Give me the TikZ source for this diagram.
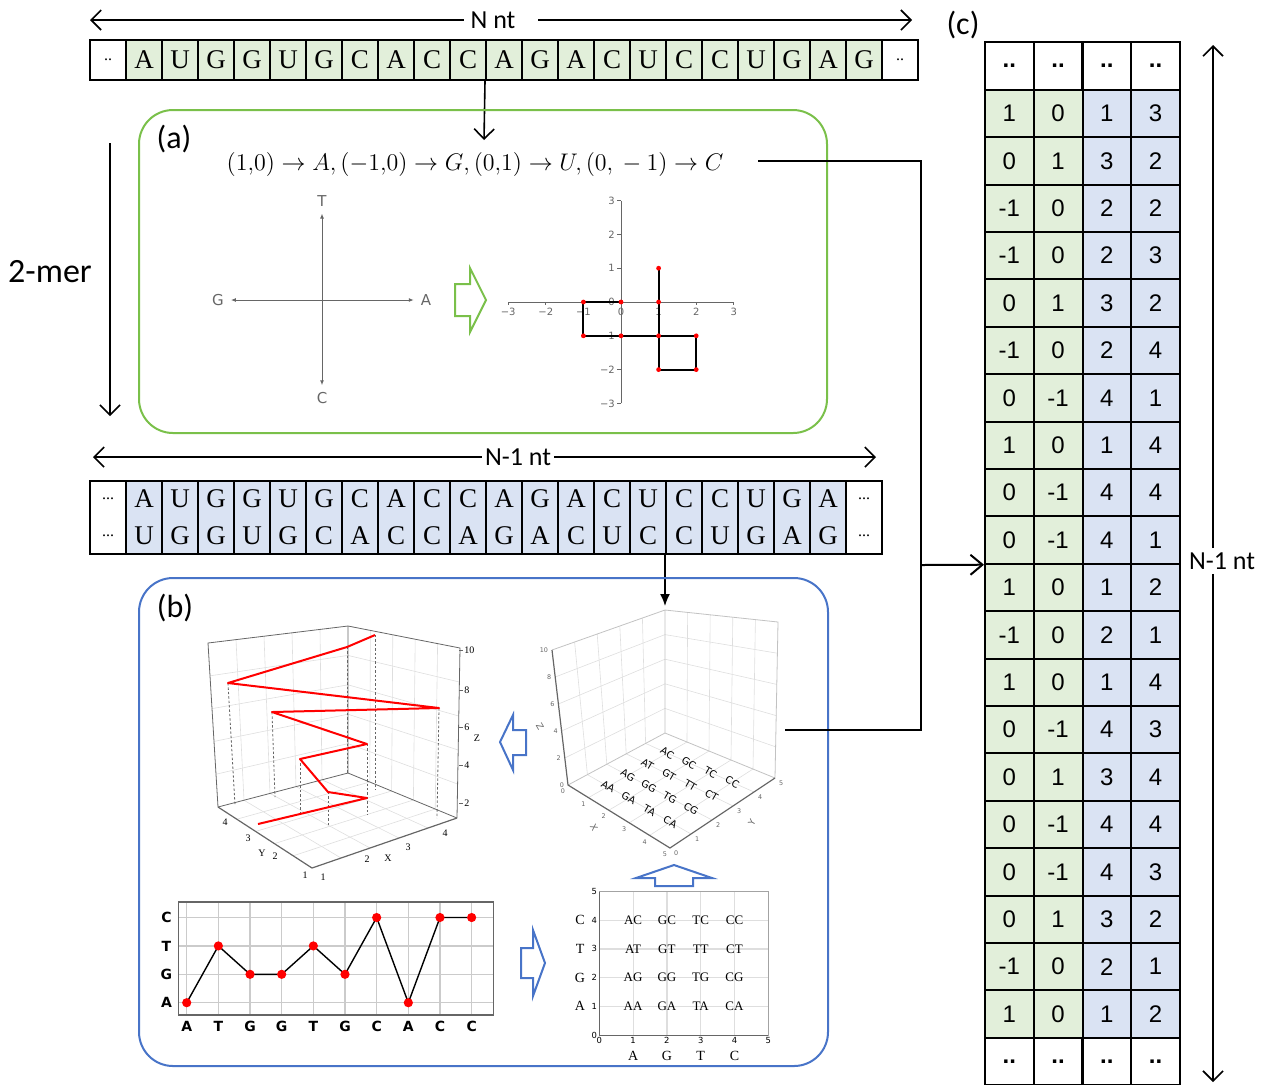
\documentclass[tikz,border=0pt]{standalone}
\usepackage{fontspec}
\setmainfont{Carlito}
\newfontfamily\seqfont{Liberation Serif}
\newfontfamily\tabfont{Liberation Sans}
\newfontfamily\plotfont{DejaVu Sans}
\usetikzlibrary{arrows.meta,calc,positioning}

\definecolor{ntgreen}{HTML}{E2EFDA}
\definecolor{ntblue}{HTML}{DAE3F3}
\definecolor{panelgreen}{HTML}{7AC04A}
\definecolor{panelblue}{HTML}{4874C8}
\definecolor{gridgray}{gray}{0.87}
\definecolor{axisgray}{gray}{0.4}
\newcommand{\fs}[1]{\fontsize{#1}{#1}\selectfont}

\tikzset{
  barb/.style={line width=0.8pt, -{Straight Barb[length=5pt,width=10pt]}},
  tinyarr/.style={axisgray, line width=0.5pt, -{Latex[length=2.5pt,width=2pt]}},
  ntcell/.style={draw, line width=1pt, minimum width=18pt, minimum height=20pt,
    inner sep=0pt, font=\seqfont\fs{13.5}},
  paircell/.style={draw, line width=1pt, minimum width=18pt, minimum height=36.5pt,
    inner sep=0pt, align=center, font=\seqfont\fontsize{13.5}{18.5}\selectfont},
  tabcell/.style={draw, line width=1pt, minimum width=24.4pt, minimum height=23.7pt,
    inner sep=0pt, font=\tabfont\fs{12}},
  panel/.style={draw, line width=1pt, rounded corners=17pt, inner sep=0pt},
  hollow/.style={line width=1pt, fill=white, line join=miter},
  wall/.style={gridgray, line width=0.3pt},
  edge3d/.style={axisgray, line width=0.4pt},
  tick3d/.style={font=\seqfont\fs{5}, inner sep=0.5pt},
  tinytick/.style={font=\plotfont\fs{3.2}, text=axisgray, inner sep=0.3pt},
}

\begin{document}
\begin{tikzpicture}[x=0.5pt, y=-0.5pt]
\useasboundingbox (0,0) rectangle (1263,1084);

% N nt sequence
\node[font=\fs{13}] (nnt) at (493,20) {N nt};
\coordinate (nntL) at (90,20);
\coordinate (nntR) at (912,20);
\draw[barb] (nnt.west) -- (nntL);
\draw[barb] ([xshift=8pt]nnt.east) -- (nntR);
\node[ntcell, font=\seqfont\fs{8}] (t1) at (108,60) {..};
\foreach \ch [count=\i from 2] in {A,U,G,G,U,G,C,A,C,C,A,G,A,C,U,C,C,U,G,A,G}
  \node[ntcell, fill=ntgreen] (t\i) at ({36*\i+72},60) {\ch};
\node[ntcell, font=\seqfont\fs{8}] (t23) at (900,60) {..};
\coordinate (aTip) at (484,140);
\draw[barb] ([xshift=-1pt]t11.south east) -- (aTip);

% panel (a)
\node[panel, draw=panelgreen, minimum width=344pt, minimum height=161.5pt] (pa) at (483,271.5) {};
\node[font=\fs{16}] (la) at (174,139) {(a)};
\node[font=\fs{12.2}] (eq) at (475,164) {$(1{,}0)\to A,(-1{,}0)\to G,(0{,}1)\to U,(0,{}-1)\to C$};
\coordinate (ctr) at (322,300);
\begin{scope}[font=\plotfont\fs{7.5}, text=axisgray]
  \node (dT) at (322,201) {T};
  \node (dC) at (322,398) {C};
  \node (dG) at (218,300) {G};
  \node (dA) at (426,300) {A};
\end{scope}
\draw[tinyarr] (ctr) -- (dT.south);
\draw[tinyarr] (ctr) -- (dC.north);
\draw[tinyarr] (ctr) -- (dG.east);
\draw[tinyarr] (ctr) -- (dA.west);
\draw[hollow, draw=panelgreen] (455,284) -- (470,284) -- (470,268) -- (486,300)
  -- (470,332) -- (470,316) -- (455,316) -- cycle;
\begin{scope}[shift={(621,302)}, x=18.8pt, y=16.9pt, font=\plotfont\fs{5}]
  \draw[axisgray, line width=0.5pt] (-3,0) -- (3,0) (0,-3) -- (0,3);
  \foreach \v/\s in {-3/−3,-2/−2,-1/−1,0/0,1/1,2/2,3/3} {
    \draw[axisgray, line width=0.4pt] (\v,0) -- (\v,-0.1);
    \node[below, inner sep=1pt, text=axisgray] (ax\v) at (\v,-0.1) {\s};
    \draw[axisgray, line width=0.4pt] (0,\v) -- (-0.1,\v);
    \node[left, inner sep=1pt, text=axisgray] (ay\v) at (-0.1,\v) {\s};
  }
  \draw[line width=1pt] (0,0) -- (-1,0) -- (-1,-1) -- (0,-1) -- (1,-1) -- (1,-2)
    -- (2,-2) -- (2,-1) -- (1,-1) -- (1,0) -- (1,1);
  \foreach \px/\py in {0/0,-1/0,-1/-1,0/-1,1/-1,1/-2,2/-2,2/-1,1/0,1/1}
    \fill[red] (\px,\py) circle (1.2pt);
\end{scope}

% 2-mer
\node[font=\fs{17}] (mer) at (50,272) {2-mer};
\coordinate (merT) at (110,143);
\coordinate (merB) at (110,416);
\draw[barb] (merT) -- (merB);

% N-1 nt pairs
\node[font=\fs{13}, inner sep=1.5pt] (n1nt) at (518,457) {N-1 nt};
\coordinate (n1L) at (93,457);
\coordinate (n1R) at (876,457);
\draw[barb] (n1nt.west) -- (n1L);
\draw[barb] (n1nt.east) -- (n1R);
\node[paircell, font=\seqfont\fontsize{8}{18.5}\selectfont] (p1) at (108,517.5) {...\\...};
\foreach \up/\dn [count=\i from 2] in {A/U,U/G,G/G,G/U,U/G,G/C,C/A,A/C,C/C,C/A,A/G,G/A,A/C,C/U,U/C,C/C,C/U,U/G,G/A,A/G}
  \node[paircell, fill=ntblue] (p\i) at ({36*\i+72},517.5) {\up\\\dn};
\node[paircell, font=\seqfont\fontsize{8}{18.5}\selectfont] (p22) at (864,517.5) {...\\...};
\coordinate (bTip) at (665,606);
\draw[line width=0.8pt, -{Latex[length=6pt,width=5pt]}] (p17.south west) -- (bTip);

% panel (b)
\node[panel, draw=panelblue, minimum width=344.5pt, minimum height=244pt] (pb) at (483.5,822) {};
\node[font=\fs{16}] (lb) at (175,608) {(b)};

% left 3D walk
\coordinate (lBT) at (348,626); \coordinate (lBB) at (348,773);
\coordinate (lLT) at (208,643); \coordinate (lLB) at (218,807);
\coordinate (lRT) at (460,648); \coordinate (lRB) at (457,818);
\coordinate (lF) at (312,868);
\foreach \f in {0.2,0.4,0.6,0.8} {
  \draw[wall] ($(lLT)!\f!(lBT)$) -- ($(lLB)!\f!(lBB)$);
  \draw[wall] ($(lLT)!\f!(lLB)$) -- ($(lBT)!\f!(lBB)$);
  \draw[wall] ($(lBT)!\f!(lRT)$) -- ($(lBB)!\f!(lRB)$);
  \draw[wall] ($(lBT)!\f!(lBB)$) -- ($(lRT)!\f!(lRB)$);
  \draw[wall] ($(lLB)!\f!(lBB)$) -- ($(lF)!\f!(lRB)$);
  \draw[wall] ($(lLB)!\f!(lF)$) -- ($(lBB)!\f!(lRB)$);
}
\draw[edge3d] (lLB) -- (lLT) -- (lBT) -- (lRT) -- (lRB);
\draw[edge3d] (lBT) -- (lBB) (lLB) -- (lBB) -- (lRB);
\draw[axisgray, line width=0.6pt] (lLB) -- (lF) -- (lRB);
\foreach \z/\zy in {10/650,8/690,6/727,4/765,2/803} {
  \draw[axisgray, line width=0.4pt] (459,\zy) -- (463,\zy);
  \node[tick3d, anchor=west] (lz\z) at (463,\zy) {\z};
}
\node[tick3d] (lzn) at (477,738) {Z};
\foreach \t/\tx/\ty in {4/225/822,3/248/838,2/275/856,1/305/875}
  \node[tick3d] (ly\t) at (\tx,\ty) {\t};
\node[tick3d] (lyn) at (262,853) {Y};
\foreach \t/\tx/\ty in {1/323/877,2/367/859,3/408/847,4/445/833}
  \node[tick3d] (lx\t) at (\tx,\ty) {\t};
\node[tick3d] (lxn) at (388,858) {X};
\foreach \ta/\tb/\ba/\bb in {228/683/235/805,272/712/275/797,300/759/300/812,328/792/328/827,
    367/744/367/815,439/708/437/818,347/647/347/773,375/635/375/790}
  \draw[axisgray, dash pattern=on 1.2pt off 1pt, line width=0.4pt] (\ta,\tb) -- (\ba,\bb);
\draw[red, line width=1pt, line join=round] (258,824) -- (367,798) -- (328,792) -- (300,759)
  -- (367,744) -- (272,712) -- (439,708) -- (228,683) -- (347,647) -- (375,635);

% right 3D dimer grid
\coordinate (rBT) at (665,610); \coordinate (rBB) at (665,733);
\coordinate (rLT) at (552,650); \coordinate (rLB) at (568,785);
\coordinate (rRT) at (778,622); \coordinate (rRB) at (775,778);
\coordinate (rF) at (670,848);
\foreach \f in {0.2,0.4,0.6,0.8} {
  \draw[wall] ($(rLT)!\f!(rBT)$) -- ($(rLB)!\f!(rBB)$);
  \draw[wall] ($(rLT)!\f!(rLB)$) -- ($(rBT)!\f!(rBB)$);
  \draw[wall] ($(rBT)!\f!(rRT)$) -- ($(rBB)!\f!(rRB)$);
  \draw[wall] ($(rBT)!\f!(rBB)$) -- ($(rRT)!\f!(rRB)$);
  \draw[wall] ($(rLB)!\f!(rBB)$) -- ($(rF)!\f!(rRB)$);
  \draw[wall] ($(rLB)!\f!(rF)$) -- ($(rBB)!\f!(rRB)$);
}
\draw[gridgray!70!gray, line width=0.4pt] (rLT) -- (rBT) -- (rRT) -- (rRB) (rBT) -- (rBB)
  (rLB) -- (rBB) -- (rRB);
\draw[axisgray, line width=0.6pt] (rLT) -- (rLB) -- (rF) -- (rRB);
\foreach \t [evaluate=\t as \f using \t/10] in {0,2,4,6,8,10}
  \node[tinytick, anchor=east] (rz\t) at ($(rLB)!\f!(rLT)+(-3,0)$) {\t};
\foreach \t [evaluate=\t as \f using \t/5] in {0,1,2,3,4,5} {
  \node[tinytick, anchor=north east] (rx\t) at ($(rLB)!\f!(rF)+(-2,3)$) {\t};
  \node[tinytick, anchor=north west] (ry\t) at ($(rF)!\f!(rRB)+(3,2)$) {\t};
}
\node[tinytick, font=\plotfont\fs{4.5}, rotate=-60] (rzn) at (540,727) {Z};
\node[tinytick, font=\plotfont\fs{4.5}, rotate=-60] (rxn) at (594,828) {X};
\node[tinytick, font=\plotfont\fs{4.5}, rotate=60] (ryn) at (752,822) {Y};
\foreach \cx/\cl in {1/A,2/G,3/T,4/C}
  \foreach \ry/\rl in {1/A,2/G,3/T,4/C}
    \node[font=\plotfont\fs{5}, rotate=-30, inner sep=0pt] (f\cl\rl)
      at ($($(rLB)!\cx/5!(rF)$)!\ry/5!($(rBB)!\cx/5!(rRB)$)$) {\cl\rl};

% hollow arrows
\draw[hollow, draw=panelblue] (526,730) -- (513,730) -- (513,715) -- (500,742)
  -- (513,770) -- (513,755) -- (526,755) -- cycle;
\draw[hollow, draw=panelblue] (655,886) -- (655,878) -- (636,878) -- (674,865)
  -- (712,878) -- (693,878) -- (693,886) -- cycle;
\draw[hollow, draw=panelblue] (521,948) -- (533,948) -- (533,930) -- (545,963)
  -- (533,996) -- (533,978) -- (521,978) -- cycle;

% 2D walk A T G G T G C A C C
\begin{scope}[shift={(186.7,1002.7)}, x=15.83pt, y=14.2pt, font=\plotfont\bfseries\fs{7}]
  \foreach \k in {0,...,9} \draw[gridgray!80!gray, line width=0.6pt] (\k,-0.43) -- (\k,3.55);
  \foreach \k in {0,...,3} \draw[gridgray!80!gray, line width=0.6pt] (-0.27,\k) -- (9.68,\k);
  \draw[axisgray, line width=0.6pt] (-0.27,-0.43) rectangle (9.68,3.55);
  \foreach \k/\l in {0/A,1/G,2/T,3/C}
    \node (wy\k) at (-0.64,\k) {\l};
  \foreach \l [count=\k from 0] in {A,T,G,G,T,G,C,A,C,C}
    \node (wx\k) at (\k,-0.85) {\l};
  \draw[line width=0.7pt] (0,0) -- (1,2) -- (2,1) -- (3,1) -- (4,2) -- (5,1) -- (6,3)
    -- (7,0) -- (8,3) -- (9,3);
  \foreach \k/\v in {0/0,1/2,2/1,3/1,4/2,5/1,6/3,7/0,8/3,9/3}
    \fill[red] (\k,\v) circle (2.3pt);
\end{scope}

% dimer grid
\begin{scope}[shift={(599.3,1035)}, x=16.9pt, y=14.35pt]
  \foreach \k in {1,...,4} \draw[gridgray, line width=0.6pt] (\k,0) -- (\k,5) (0,\k) -- (5,\k);
  \draw[axisgray!60, line width=0.5pt] (0,0) rectangle (5,5);
  \draw[axisgray, line width=0.5pt] (0,5) -- (0,0) -- (5,0);
  \foreach \k in {0,...,5} {
    \node[font=\plotfont\fs{4.2}, anchor=east, inner sep=1pt] (gy\k) at (0,\k) {\k};
    \node[font=\plotfont\fs{4.2}, anchor=north, inner sep=1pt] (gx\k) at (\k,0) {\k};
  }
  \foreach \cx/\cl in {1/A,2/G,3/T,4/C} {
    \node[font=\seqfont\fs{7}] (gl\cl) at (-0.57,\cx) {\cl};
    \node[font=\seqfont\fs{7}] (gb\cl) at (\cx,-0.73) {\cl};
    \foreach \ry/\rl in {1/A,2/G,3/T,4/C}
      \node[font=\seqfont\fs{6.5}, inner sep=0pt] (g\cl\rl) at (\cx,\ry) {\cl\rl};
  }
\end{scope}

% table (c)
\node[font=\fs{16}] (lc) at (963,25) {(c)};
\foreach \j in {1,...,4} {
  \node[tabcell] (c0-\j) at ({985+48.75*(\j-0.5)},66) {\textbf{..}};
  \node[tabcell] (c21-\j) at ({985+48.75*(\j-0.5)},{42.3+47.4*21.5}) {\textbf{..}};
}
\foreach \a/\b/\c/\d [count=\r] in {1/0/1/3,0/1/3/2,-1/0/2/2,-1/0/2/3,0/1/3/2,-1/0/2/4,
    0/-1/4/1,1/0/1/4,0/-1/4/4,0/-1/4/1,1/0/1/2,-1/0/2/1,1/0/1/4,0/-1/4/3,0/1/3/4,
    0/-1/4/4,0/-1/4/3,0/1/3/2,-1/0/2/1,1/0/1/2} {
  \node[tabcell, fill=ntgreen] (c\r-1) at (1009.4,{42.3+47.4*(\r+0.5)}) {\a};
  \node[tabcell, fill=ntgreen] (c\r-2) at (1058.1,{42.3+47.4*(\r+0.5)}) {\b};
  \node[tabcell, fill=ntblue] (c\r-3) at (1106.9,{42.3+47.4*(\r+0.5)}) {\c};
  \node[tabcell, fill=ntblue] (c\r-4) at (1155.6,{42.3+47.4*(\r+0.5)}) {\d};
}
\node[font=\fs{13}, fill=white, inner sep=2pt] (n1c) at (1222,561) {N-1 nt};
\coordinate (colT) at (1213,45);
\coordinate (colB) at (1213,1082);
\draw[barb] (n1c.north -| colT) -- (colT);
\draw[barb] (n1c.south -| colT) -- (colB);

% connectors to (c)
\coordinate (busT) at (921,161);
\coordinate (busM) at (921,565);
\coordinate (busB) at (921,730);
\coordinate (r3dEnd) at (785,730);
\draw[line width=1pt] ([xshift=14pt,yshift=1.5pt]eq.east) -- (busT) -- (busB) -- (r3dEnd);
\draw[line width=1pt, -{Straight Barb[length=6pt,width=10pt]}] (busM) -- (c10-1.south west);
\end{tikzpicture}
\end{document}
